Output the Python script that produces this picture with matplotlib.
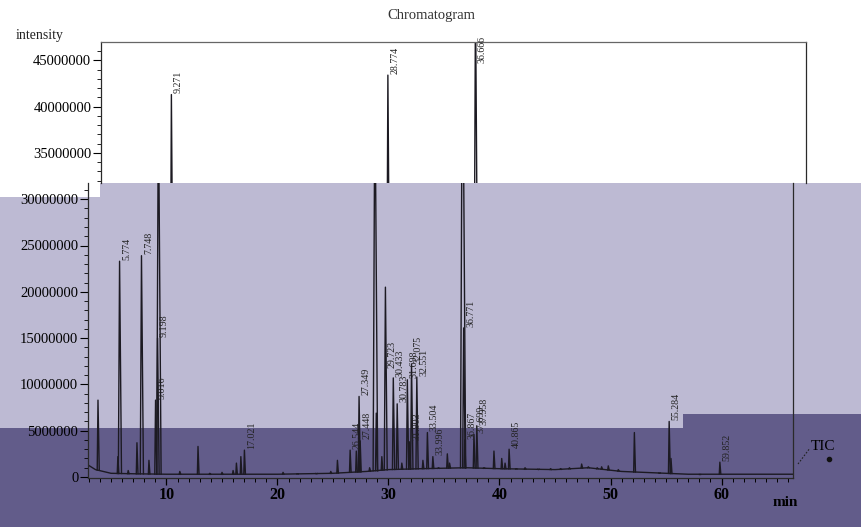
import numpy as np
import matplotlib
matplotlib.use('Agg')
import matplotlib.pyplot as plt
from matplotlib.patches import Rectangle
from matplotlib.lines import Line2D
from matplotlib.ticker import MultipleLocator, FuncFormatter

plt.rcParams['font.family'] = ['Liberation Serif', 'DejaVu Serif']

# labelled peaks: retention time (min), apex intensity (counts)
rt = [9.271, 28.774, 36.666, 5.774, 7.748, 9.198, 9.016, 17.021, 26.544, 27.349,
      27.448, 29.723, 30.433, 30.783, 31.698, 31.903, 32.075, 32.551, 33.504, 33.996,
      36.771, 36.867, 37.699, 37.958, 40.865, 55.284, 59.852]
rt_height = [41.3e6, 43.4e6, 52.0e6, 23.3e6, 23.9e6, 15.0e6, 8.3e6, 2.9e6, 2.9e6, 8.7e6,
             3.9e6, 20.5e6, 10.7e6, 7.9e6, 10.5e6, 3.8e6, 12.2e6, 10.8e6, 4.8e6, 2.2e6,
             16.1e6, 4.0e6, 4.6e6, 5.5e6, 3.0e6, 6.0e6, 1.6e6]
rt_label = ['9.271', '28.774', '36.666', '5.774', '7.748', '9.198', '9.016', '17.021',
            '26.544', '27.349', '27.448', '29.723', '30.433', '30.783', '31.698', '31.903',
            '32.075', '32.551', '33.504', '33.996', '36.771', '36.867', '37.699', '37.958',
            '40.865', '55.284', '59.852']

# peaks without a label
small_rt = [3.83, 5.62, 6.55, 7.34, 8.42, 11.2, 12.84, 13.9, 15.0, 16.0, 16.3, 16.7,
            20.5, 21.8, 23.5, 24.8, 25.4, 27.1, 28.3, 28.9, 29.4, 31.2, 33.1, 34.5,
            35.3, 35.5, 38.6, 39.5, 40.2, 40.5, 41.5, 42.3, 43.5, 44.6, 45.5, 46.3,
            47.4, 48.0, 48.8, 49.2, 49.8, 50.7, 52.15, 54.4, 55.45, 58.0]
small_height = [8.3e6, 2.2e6, 0.7e6, 3.7e6, 1.8e6, 0.6e6, 3.3e6, 0.4e6, 0.5e6, 0.7e6, 1.5e6, 2.2e6,
                0.5e6, 0.35e6, 0.35e6, 0.6e6, 1.8e6, 2.8e6, 1.0e6, 6.9e6, 2.2e6, 1.5e6, 1.8e6, 1.0e6,
                2.5e6, 1.5e6, 1.0e6, 2.8e6, 2.0e6, 1.5e6, 0.9e6, 1.0e6, 0.8e6, 0.9e6, 0.9e6, 1.0e6,
                1.4e6, 1.1e6, 1.0e6, 1.1e6, 1.2e6, 0.8e6, 4.8e6, 0.4e6, 2.0e6, 0.3e6]

# baseline level read at a few times
base_t = [2.93, 3.6, 4.3, 5.0, 7.0, 10.0, 15.0, 20.0, 25.0, 28.0, 30.0, 33.0, 37.0,
          40.0, 45.0, 48.0, 51.0, 53.0, 57.0, 62.0, 66.44]
base_i = [1.3e6, 0.8e6, 0.6e6, 0.4e6, 0.35e6, 0.3e6, 0.3e6, 0.3e6, 0.4e6, 0.6e6, 0.8e6,
          0.9e6, 1.0e6, 0.9e6, 0.8e6, 1.0e6, 0.6e6, 0.5e6, 0.3e6, 0.3e6, 0.3e6]

label_override = {'29.723': 11.6e6}

W, H = 861, 527
fig = plt.figure(figsize=(W / 100, H / 100), dpi=100)
fig.patch.set_facecolor('white')


def box(x0, y0, x1, y1):
    return [x0 / W, 1 - y1 / H, (x1 - x0) / W, (y1 - y0) / H]


def rect(x0, y0, x1, y1, color):
    fig.add_artist(Rectangle((x0 / W, 1 - y1 / H), (x1 - x0) / W, (y1 - y0) / H,
                             transform=fig.transFigure, color=color, lw=0, zorder=-5))


# scanned overlay bands
rect(0, 183, W, 428, '#bdbad3')
rect(0, 428, W, H, '#625c8a')
rect(683, 414, W, 428, '#625c8a')
rect(0, 183, 100, 197, 'white')

px_per_unit = 9.26e-6
zero_y = 477
y_split = (zero_y - 183) / px_per_unit
y_lo = (zero_y - 478) / px_per_unit
y_hi = (zero_y - 42) / px_per_unit
t0, t1 = 2.93, 66.44

ax_bot = fig.add_axes(box(88, 183, 793, 478))
ax_top = fig.add_axes(box(101, 42, 806, 183))
ax_bot.set_ylim(y_lo, y_split)
ax_top.set_ylim(y_split, y_hi)

line_kw = dict(color='#1c1a22', lw=1.0)
for ax in (ax_top, ax_bot):
    ax.set_facecolor('none')
    ax.set_xlim(t0, t1)
    ax.plot(base_t, base_i, **line_kw)
    for t, h in zip(list(rt) + small_rt, list(rt_height) + small_height):
        w = 0.05 + 0.0025 * h / 1e6
        b = np.interp(t, base_t, base_i)
        ax.plot([t - w, t, t + w * 1.6], [b, h, b], **line_kw)
    ax.yaxis.set_major_locator(MultipleLocator(5e6))
    ax.yaxis.set_minor_locator(MultipleLocator(1e6))
    ax.yaxis.set_major_formatter(FuncFormatter(lambda v, p: '%d' % round(v)))
    ax.tick_params(axis='y', which='major', length=6, width=0.8, labelsize=10.5, pad=1)
    ax.tick_params(axis='y', which='minor', length=3, width=0.6)
    for s in ax.spines.values():
        s.set_linewidth(0.9)
        s.set_color('#2a2a2a')

ax_top.spines['bottom'].set_visible(False)
ax_top.tick_params(axis='x', which='both', bottom=False, labelbottom=False)
ax_top.spines['top'].set_color('#666666')
ax_bot.spines['top'].set_visible(False)
ax_bot.xaxis.set_major_locator(MultipleLocator(10))
ax_bot.xaxis.set_minor_locator(MultipleLocator(1))
ax_bot.tick_params(axis='x', which='major', length=5, width=0.9, pad=1.5)
ax_bot.tick_params(axis='x', which='minor', length=3, width=0.7)
for lab in ax_bot.get_xticklabels():
    lab.set_fontsize(11.5)
    lab.set_fontweight('bold')

for t, h, s in zip(rt, rt_height, rt_label):
    ax = ax_top if h > y_split else ax_bot
    ly = label_override.get(s, min(h, 44.6e6))
    ax.annotate(s, (t, ly), xytext=(5, 1), textcoords='offset points', rotation=90,
                ha='center', va='bottom', fontsize=7.2, color='#222222')

fig.text(431 / W, 1 - 16 / H, 'Chromatogram', ha='center', va='center', fontsize=10.5, color='#333333')
fig.text(40 / W, 1 - 35 / H, 'intensity', ha='center', va='center', fontsize=10, color='#222222')
fig.text(785 / W, 1 - 502 / H, 'min', ha='center', va='center', fontsize=11, fontweight='bold')
fig.text(823 / W, 1 - 446 / H, 'TIC', ha='center', va='center', fontsize=11)
fig.add_artist(Line2D([798 / W, 810 / W], [1 - 464 / H, 1 - 448 / H], ls=(0, (1.5, 1.5)),
                      lw=0.8, color='#222222', transform=fig.transFigure))
fig.add_artist(Line2D([829 / W], [1 - 459 / H], marker='o', ms=3, color='#111111',
                      transform=fig.transFigure))

fig.savefig('out.png', dpi=100)
